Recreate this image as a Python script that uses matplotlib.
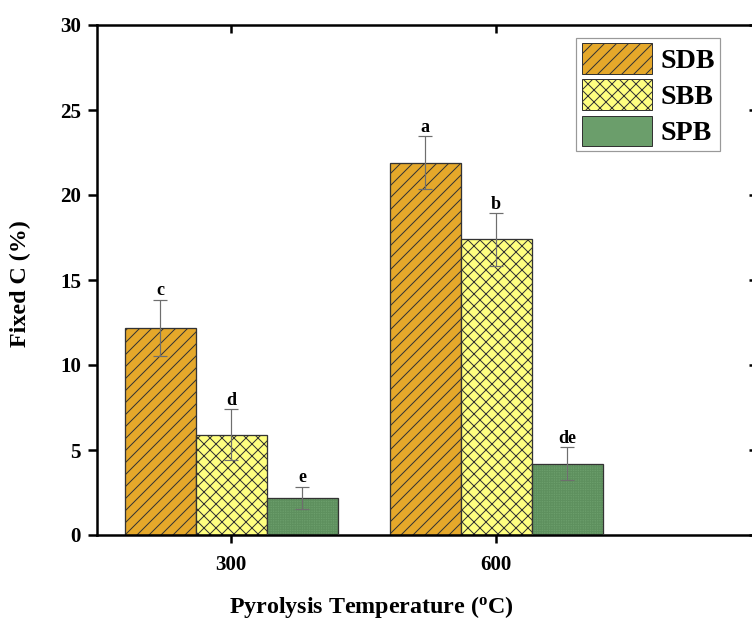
import numpy as np
import matplotlib.pyplot as plt
from matplotlib.patches import Patch

# at 72 dpi one point is one pixel, so all sizes below are in pixels
plt.rcParams['font.family'] = 'Liberation Serif'
plt.rcParams['font.weight'] = 'bold'
plt.rcParams['hatch.linewidth'] = 1.0
plt.rcParams['mathtext.fontset'] = 'custom'
plt.rcParams['mathtext.rm'] = 'Liberation Serif:bold'
plt.rcParams['mathtext.bf'] = 'Liberation Serif:bold'

# pyrolysis temperature groups and biochar series
temps = ['300', '600']
series = ['SDB', 'SBB', 'SPB']
fixed_c = {'SDB': [12.2, 21.9], 'SBB': [5.9, 17.4], 'SPB': [2.2, 4.2]}
err = {'SDB': [1.65, 1.55], 'SBB': [1.5, 1.55], 'SPB': [0.65, 0.95]}
letters = {'SDB': ['c', 'a'], 'SBB': ['d', 'b'], 'SPB': ['e', 'de']}

colors = {'SDB': '#E5A82A', 'SBB': '#FFFF80', 'SPB': '#6B9E6B'}
hatches = {'SDB': '//', 'SBB': 'xx', 'SPB': None}
edge = '#333333'

fig = plt.figure(figsize=(752 / 72, 621 / 72), dpi=72)
ax = fig.add_axes([97 / 752, 86 / 621, 660 / 752, 510 / 621])

x = np.arange(len(temps))
w = 0.268
for i, s in enumerate(series):
    pos = x + (i - 1) * w
    if s == 'SPB':
        # fine grid texture on the green bars
        ax.bar(pos, fixed_c[s], w, color=colors[s], edgecolor='#5E905E',
               hatch='+++++', linewidth=0, zorder=2)
        ax.bar(pos, fixed_c[s], w, color='none', edgecolor=edge,
               linewidth=1.3, zorder=3)
    else:
        ax.bar(pos, fixed_c[s], w, color=colors[s], edgecolor=edge,
               hatch=hatches[s], linewidth=1.3, zorder=2)
    ax.errorbar(pos, fixed_c[s], yerr=err[s], fmt='none', ecolor='#6E6E6E',
                elinewidth=1.2, capsize=7, capthick=1.2, zorder=4)
    for p, v, e, lab in zip(pos, fixed_c[s], err[s], letters[s]):
        ax.text(p, v + e + 0.25, lab, ha='center', va='baseline',
                fontsize=18, fontweight='bold')

ax.set_xlim(-0.506, 1.985)
ax.set_ylim(0, 30)
ax.set_xticks(x)
ax.set_xticklabels(temps)
ax.set_yticks(np.arange(0, 31, 5))
ax.tick_params(axis='x', labelsize=21, width=2.5, length=8, pad=12)
ax.tick_params(axis='y', labelsize=21, width=2.5, length=9, pad=7)
for side in ax.spines:
    ax.spines[side].set_linewidth(2.5)

# inward ticks on the top and right frame
secx = ax.secondary_xaxis('top')
secx.set_xticks(x)
secx.tick_params(direction='in', length=8, width=2.5, labeltop=False)
secy = ax.secondary_yaxis('right')
secy.set_yticks(np.arange(0, 31, 5))
secy.tick_params(direction='in', length=8, width=2.5, labelright=False)

fig.text(20 / 752, 1 - 284 / 621, 'Fixed C (%)', rotation=90, fontsize=24,
         fontweight='bold', ha='center', va='center')
fig.text(371 / 752, 1 - 607 / 621, 'Pyrolysis Temperature ($\\mathregular{^o}$C)',
         fontsize=24, fontweight='bold', ha='center', va='center')

handles = []
for s in series:
    if s == 'SPB':
        handles.append(Patch(facecolor=colors[s], edgecolor=edge, label=s))
    else:
        handles.append(Patch(facecolor=colors[s], edgecolor=edge,
                             hatch=hatches[s], label=s))
leg = ax.legend(handles=handles, loc='upper right',
                bbox_to_anchor=(720 / 752, 1 - 38 / 621),
                bbox_transform=fig.transFigure, fancybox=False,
                edgecolor='#999999', framealpha=1, fontsize=28,
                handlelength=2.5, handleheight=1.3, labelspacing=0.2,
                handletextpad=0.32, borderpad=0.18, borderaxespad=0)
leg.get_frame().set_linewidth(1.2)

fig.savefig('out.png', dpi=72)
